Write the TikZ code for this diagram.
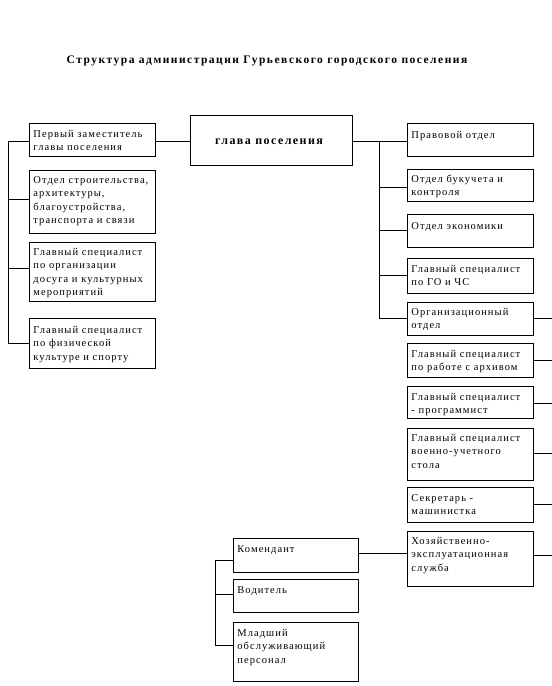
\documentclass[tikz,border=0pt]{standalone}
\usepackage{fontspec}
\setmainfont{Liberation Serif}
\newfontfamily\boxfont[LetterSpace=10]{Liberation Serif}
\newfontfamily\ttlfont[LetterSpace=13]{Liberation Serif}
\newfontfamily\headfont[LetterSpace=12]{Liberation Serif}
\begin{document}
\begin{tikzpicture}[x=1pt,y=-1pt,
  line width=0.9pt,
  box/.style={draw, line width=0.9pt, inner sep=0pt, anchor=north west},
  txt/.style={anchor=base west, inner sep=0pt, font=\boxfont\fontsize{10.5}{13.5}\selectfont}]
\useasboundingbox (0,0) rectangle (552,686);
% macro for a box: name, x1, y1, x2, y2, baseline offset, text
\newcommand{\orgbox}[7]{%
  \path (#2,#3) coordinate (#1-nw);
  \node[box, minimum width=#4pt-#2pt, minimum height=#5pt-#3pt] (#1) at (#1-nw) {};
  \node[txt] (#1-t) at ([xshift=4pt,yshift=-#6pt]#1.north west) {\parbox[t]{140pt}{\raggedright #7}};
}
% title
\node[anchor=base, inner sep=0pt, font=\ttlfont\fontsize{11.5}{13}\selectfont\bfseries] (title) at (267,63)
  {Структура администрации Гурьевского городского поселения};
% left column
\orgbox{L1}{29}{123}{155}{156}{14}{Первый заместитель\\главы поселения}
\orgbox{L2}{29}{170}{155}{233}{13}{Отдел строительства,\\архитектуры,\\благоустройства,\\транспорта и связи}
\orgbox{L3}{29}{242}{155}{301}{13}{Главный специалист\\по организации\\досуга и культурных\\мероприятий}
\orgbox{L4}{29}{318}{155}{368}{15}{Главный специалист\\по физической\\культуре и спорту}
% head
\node[box, minimum width=162pt, minimum height=50pt] (glava) at (190,115) {};
\node[anchor=base, inner sep=0pt, font=\headfont\fontsize{12}{14}\selectfont\bfseries] (glava-t) at (269,144) {глава поселения};
% right column
\orgbox{R1}{407}{123}{533}{156}{15}{Правовой отдел}
\orgbox{R2}{407}{169}{533}{201}{13}{Отдел букучета и\\контроля}
\orgbox{R3}{407}{214}{533}{247}{15}{Отдел экономики}
\orgbox{R4}{407}{258}{533}{293}{14}{Главный специалист\\по ГО и ЧС}
\orgbox{R5}{407}{302}{533}{335}{13}{Организационный\\отдел}
\orgbox{R6}{407}{343}{533}{377}{14}{Главный специалист\\по работе с архивом}
\orgbox{R7}{407}{386}{533}{418}{14}{Главный специалист\\- программист}
\orgbox{R8}{407}{428}{533}{480}{13}{Главный специалист\\военно-учетного\\стола}
\orgbox{R9}{407}{487}{533}{522}{14}{Секретарь -\\машинистка}
\orgbox{R10}{407}{531}{533}{586}{13}{Хозяйственно-\\эксплуатационная\\служба}
% bottom group
\orgbox{B1}{233}{538}{358}{572}{14}{Комендант}
\orgbox{B2}{233}{579}{358}{612}{14}{Водитель}
\orgbox{B3}{233}{622}{358}{681}{14}{Младший\\обслуживающий\\персонал}
% left tree
\coordinate (lv1) at (8,141);
\coordinate (lv4) at (8,343);
\draw (L1.west |- lv1) -- (lv1) -- (lv4) -- (L4.west |- lv4);
\draw (8,199) -- (L2.west |- 0,199);
\draw (8,268) -- (L3.west |- 0,268);
% head links
\draw (L1.east |- 0,141) -- (glava.west |- 0,141);
\coordinate (rv1) at (379,141);
\coordinate (rv5) at (379,318);
\draw (glava.east |- rv1) -- (R1.west |- rv1);
\draw (rv1) -- (rv5) -- (R5.west |- rv5);
\draw (379,187) -- (R2.west |- 0,187);
\draw (379,230) -- (R3.west |- 0,230);
\draw (379,275) -- (R4.west |- 0,275);
% right stubs
\foreach \n/\yy in {R5/318,R6/360,R7/403,R8/453,R9/504,R10/555}{
  \coordinate (\n-e) at (552,\yy);
  \draw (\n.east |- \n-e) -- (\n-e);
}
% bottom links
\draw (B1.east |- 0,553) -- (R10.west |- 0,553);
\coordinate (bv1) at (215,560);
\coordinate (bv3) at (215,645);
\draw (B1.west |- bv1) -- (bv1) -- (bv3) -- (B3.west |- bv3);
\draw (215,594) -- (B2.west |- 0,594);
\end{tikzpicture}
\end{document}
